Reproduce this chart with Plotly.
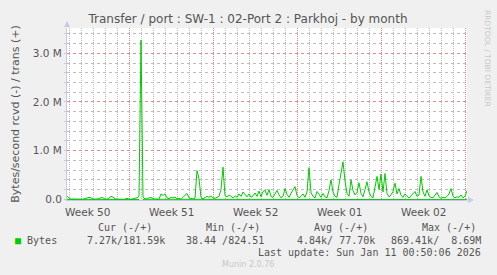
import plotly.graph_objects as go
import pandas as pd

# ---------------- data (kB/s, one sample every 4 hours) ----------------
start_time = "2025-12-09 19:30"
trans_k = [
    60, 20, 0, 5, 0, 0, 5, 0, 0, 10, 35, 40, 30, 5, 0, 0, 10, 35, 30, 5,
    0, 25, 60, 45, 10, 0, 0, 5, 0, 0, 20, 0, 0, 5, 15, 30, 60, 3270, 40, 10,
    5, 30, 35, 20, 0, 5, 0, 110, 80, 110, 30, 10, 40, 30, 45, 10, 20, 0, 40, 90,
    120, 30, 10, 5, 20, 590, 420, 40, 10, 30, 60, 40, 70, 30, 20, 40, 60, 200, 660, 80,
    50, 90, 60, 30, 70, 40, 110, 60, 150, 90, 50, 110, 40, 70, 130, 60, 170, 50, 160, 190,
    80, 200, 60, 40, 120, 180, 90, 30, 60, 220, 100, 40, 120, 180, 260, 80, 30, 60, 110, 40,
    150, 650, 140, 60, 30, 160, 90, 40, 120, 50, 30, 180, 400, 150, 60, 40, 300, 570, 770, 380,
    120, 60, 400, 180, 90, 140, 340, 120, 50, 200, 360, 150, 60, 30, 250, 470, 200, 520, 150, 530,
    120, 50, 90, 160, 330, 110, 220, 80, 40, 110, 60, 30, 70, 120, 160, 60, 90, 470, 150, 60,
    190, 70, 40, 30, 90, 140, 50, 20, 40, 30, 60, 110, 220, 60, 30, 50, 40, 90, 30, 60,
    180,
]
rcvd_k = [
    3, 2, 1, 1, 1, 1, 1, 1, 1, 2, 3, 3, 2, 1, 1, 1, 2, 3, 3, 1,
    1, 2, 4, 3, 1, 1, 1, 1, 1, 1, 2, 1, 1, 1, 2, 3, 4, 45, 3, 1,
    1, 2, 3, 2, 1, 1, 1, 5, 4, 5, 2, 1, 3, 2, 3, 1, 2, 1, 3, 4,
    5, 2, 1, 1, 2, 12, 9, 3, 1, 2, 3, 3, 4, 2, 2, 3, 3, 6, 14, 4,
    3, 4, 3, 2, 4, 3, 5, 3, 6, 4, 3, 5, 3, 4, 5, 3, 6, 3, 6, 7,
    4, 7, 3, 3, 5, 6, 4, 2, 3, 7, 5, 3, 5, 6, 8, 4, 2, 3, 5, 3,
    6, 14, 6, 3, 2, 6, 4, 3, 5, 3, 2, 6, 10, 6, 3, 3, 8, 12, 16, 9,
    5, 3, 10, 6, 4, 6, 9, 5, 3, 7, 9, 6, 3, 2, 7, 11, 7, 12, 6, 12,
    5, 3, 4, 6, 9, 5, 7, 4, 3, 5, 3, 2, 4, 5, 6, 3, 4, 11, 6, 3,
    7, 4, 3, 2, 4, 6, 3, 2, 3, 2, 3, 5, 7, 3, 2, 3, 3, 4, 2, 3,
    7,
]
week_label_dates = ["2025-12-11 12:00", "2025-12-18 12:00", "2025-12-25 12:00",
                    "2026-01-01 12:00", "2026-01-08 12:00"]
week_labels = ["Week 50", "Week 51", "Week 52", "Week 01", "Week 02"]
week_start_dates = ["2025-12-15", "2025-12-22", "2025-12-29", "2026-01-05", "2026-01-12"]
y_tick_vals = [0, 1e6, 2e6, 3e6]
y_tick_text = ["0.0", "1.0 M", "2.0 M", "3.0 M"]

legend_headers = ["Cur (-/+)", "Min (-/+)", "Avg (-/+)", "Max (-/+)"]
legend_values = ["7.27k/181.59k", "38.44 /824.51", "4.84k/ 77.70k", "869.41k/  8.69M"]
last_update = "Last update: Sun Jan 11 00:50:06 2026"

times = pd.date_range(start_time, periods=len(trans_k), freq="4h")
x_range = [times[0], times[-1]]

W, H = 497, 275
L, R, T, B = 67, 30, 28, 75
PW, PH = W - L - R, H - T - B


def px(xp):
    return (xp - L) / PW


def py(yp):
    return (H - B - yp) / PH


GREEN = "#00CC00"
TXT = "#555555"
MINOR = "#BDBDBD"
MAJOR = "#E08A8A"
AXIS = "#C8C8E8"
XDASH = "1px,1px"
YDASH = "dot"

fig = go.Figure()
fig.add_trace(go.Scatter(x=times, y=[v * 1000 for v in trans_k], mode="lines",
                         line=dict(color=GREEN, width=1), hoverinfo="skip",
                         showlegend=False))
fig.add_trace(go.Scatter(x=times, y=[-v * 1000 for v in rcvd_k], mode="lines",
                         line=dict(color=GREEN, width=1), hoverinfo="skip",
                         showlegend=False))

fig.update_layout(
    width=W, height=H,
    margin=dict(l=L, r=R, t=T, b=B),
    paper_bgcolor="#F0F0F0",
    plot_bgcolor="#FFFFFF",
    font=dict(family="DejaVu Sans", size=10.5, color=TXT),
    title=dict(text="Transfer / port : SW-1 : 02-Port 2 : Parkhoj - by month",
               xref="paper", x=px(248), xanchor="center",
               yref="container", y=1 - 19 / H, yanchor="middle",
               font=dict(size=12, color=TXT)),
    xaxis=dict(type="date", range=x_range, tickmode="array",
               tickvals=week_start_dates, showticklabels=False, ticks="",
               showgrid=True, gridcolor=MAJOR, gridwidth=1, griddash=XDASH,
               minor=dict(dtick=86400000, tick0="2025-12-10", showgrid=True,
                          gridcolor=MINOR, gridwidth=1, griddash=XDASH),
               zeroline=False, showline=True, linecolor=AXIS, linewidth=1),
    yaxis=dict(range=[-0.015e6, 3.52e6], tickmode="array", tickvals=y_tick_vals,
               ticktext=y_tick_text, showgrid=True, gridcolor=MAJOR, gridwidth=1,
               griddash=YDASH,
               minor=dict(dtick=200000, tick0=0, showgrid=True, gridcolor=MINOR,
                          gridwidth=1, griddash=YDASH, ticks="outside",
                          ticklen=2, tickcolor=AXIS),
               zeroline=True, zerolinecolor="#000000", zerolinewidth=1,
               showline=True, linecolor=AXIS, linewidth=1,
               ticks="outside", ticklen=2, tickcolor=AXIS,
               tickfont=dict(size=10.5, color=TXT),
               title=dict(text="Bytes/second rcvd (-) / trans (+)",
                          font=dict(size=11, color=TXT), standoff=10)),
)

annotations = []
# week labels on the x scale
for wd, wl in zip(week_label_dates, week_labels):
    annotations.append(dict(x=wd, y=py(212), xref="x", yref="paper", text=wl,
                            showarrow=False, xanchor="center", yanchor="middle",
                            font=dict(family="DejaVu Sans", size=10.5, color=TXT)))
mono = dict(family="DejaVu Sans Mono", size=10, color=TXT)
header_x = [125, 233, 341, 449]
for hx, htxt in zip(header_x, legend_headers):
    annotations.append(dict(x=px(hx), y=py(227), xref="paper", yref="paper",
                            text=htxt, showarrow=False, xanchor="center",
                            yanchor="middle", font=mono))
annotations.append(dict(x=px(13), y=py(240), xref="paper", yref="paper",
                        text="<span style='color:#00CC00'>■</span> Bytes",
                        showarrow=False, xanchor="left", yanchor="middle", font=mono))
value_right = [167, 266, 377, 483]
for vx, vtxt in zip(value_right, legend_values):
    annotations.append(dict(x=px(vx), y=py(240), xref="paper", yref="paper",
                            text=vtxt.replace(" ", "&nbsp;"), showarrow=False,
                            xanchor="right", yanchor="middle", font=mono))
annotations.append(dict(x=px(483), y=py(252), xref="paper", yref="paper",
                        text=last_update, showarrow=False, xanchor="right",
                        yanchor="middle", font=mono))
annotations.append(dict(x=px(248), y=py(264), xref="paper", yref="paper",
                        text="Munin 2.0.76", showarrow=False, xanchor="center",
                        yanchor="middle", font=dict(family="DejaVu Sans", size=8, color="#C8C8C8")))
annotations.append(dict(x=px(488), y=py(58), xref="paper", yref="paper",
                        text="RRDTOOL / TOBI OETIKER", showarrow=False, textangle=90,
                        xanchor="center", yanchor="middle",
                        font=dict(family="DejaVu Sans", size=7.5, color="#C8C8C8")))
fig.update_layout(annotations=annotations)

# axis arrows
fig.add_shape(type="path", xref="paper", yref="paper",
              path=f"M {px(64)} {py(27)} L {px(70)} {py(27)} L {px(67)} {py(21)} Z",
              fillcolor=AXIS, line=dict(width=0))
fig.add_shape(type="path", xref="paper", yref="paper",
              path=f"M {px(468)} {py(197)} L {px(468)} {py(203)} L {px(474)} {py(200)} Z",
              fillcolor=AXIS, line=dict(width=0))

fig.write_html("out.html")
